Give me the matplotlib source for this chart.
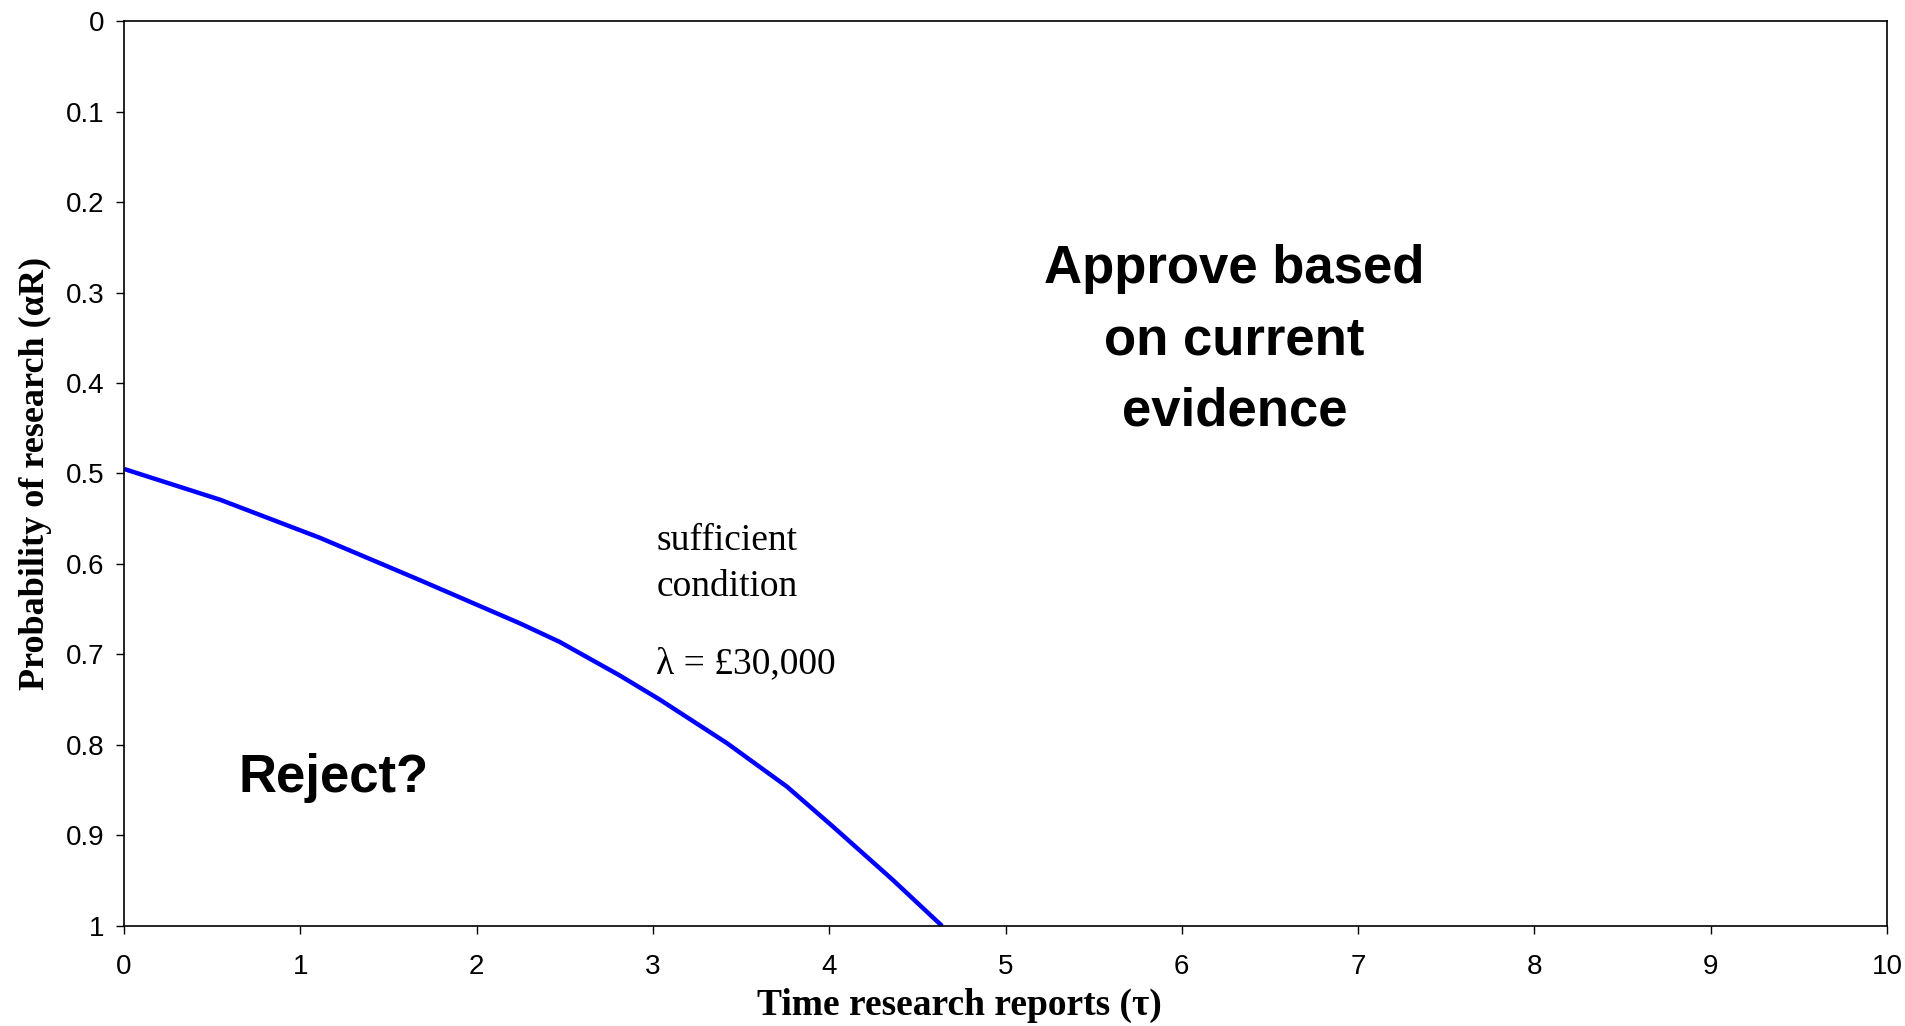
import matplotlib.pyplot as plt
from matplotlib.ticker import FormatStrFormatter

# curve: time research reports vs probability of research
tau = [0.0, 0.545, 1.11, 1.68, 2.25, 2.47, 2.81, 3.04, 3.42, 3.76, 4.02, 4.36, 4.64]
alpha_r = [0.495, 0.529, 0.571, 0.618, 0.666, 0.686, 0.723, 0.750, 0.798, 0.846,
           0.890, 0.949, 1.0]

x_ticks = list(range(0, 11))
y_ticks = [0, 0.1, 0.2, 0.3, 0.4, 0.5, 0.6, 0.7, 0.8, 0.9, 1]

serif = ['Liberation Serif', 'DejaVu Serif']
sans = ['Liberation Sans', 'DejaVu Sans']

fig = plt.figure(figsize=(19.06, 10.26), dpi=100)
ax = fig.add_axes([0.0651, 0.0975, 0.9249, 0.882])

ax.plot(tau, alpha_r, color='#0000ff', linewidth=3.2, solid_capstyle='butt',
        solid_joinstyle='round')

ax.set_xlim(0, 10)
ax.set_ylim(1, 0)
ax.set_xticks(x_ticks)
ax.set_yticks(y_ticks)
ax.yaxis.set_major_formatter(FormatStrFormatter('%g'))
ax.tick_params(direction='out', length=6, width=1, labelsize=20)
ax.tick_params(axis='x', pad=14)
ax.tick_params(axis='y', pad=8)
for lab in ax.get_xticklabels() + ax.get_yticklabels():
    lab.set_family(sans)
for s in ax.spines.values():
    s.set_linewidth(1.2)

ax.set_xlabel('Time research reports (τ)', family=serif, fontsize=27,
              fontweight='bold')
ax.xaxis.set_label_coords(0.474, -0.068)
ax.set_ylabel('Probability of research (αR)', family=serif, fontsize=26,
              fontweight='bold', labelpad=10)

ax.text(6.3, 0.353, 'Approve based\non current\nevidence', family=sans,
        fontsize=38, fontweight='bold', ha='center', va='center',
        linespacing=1.55)
ax.text(1.19, 0.836, 'Reject?', family=sans, fontsize=38,
        fontweight='bold', ha='center', va='center')
ax.text(3.02, 0.6, 'sufficient\ncondition', family=serif, fontsize=27,
        ha='left', va='center', linespacing=1.45)
ax.text(3.02, 0.71, 'λ = £30,000', family=serif, fontsize=27,
        ha='left', va='center')

fig.savefig('out.png', dpi=100)
